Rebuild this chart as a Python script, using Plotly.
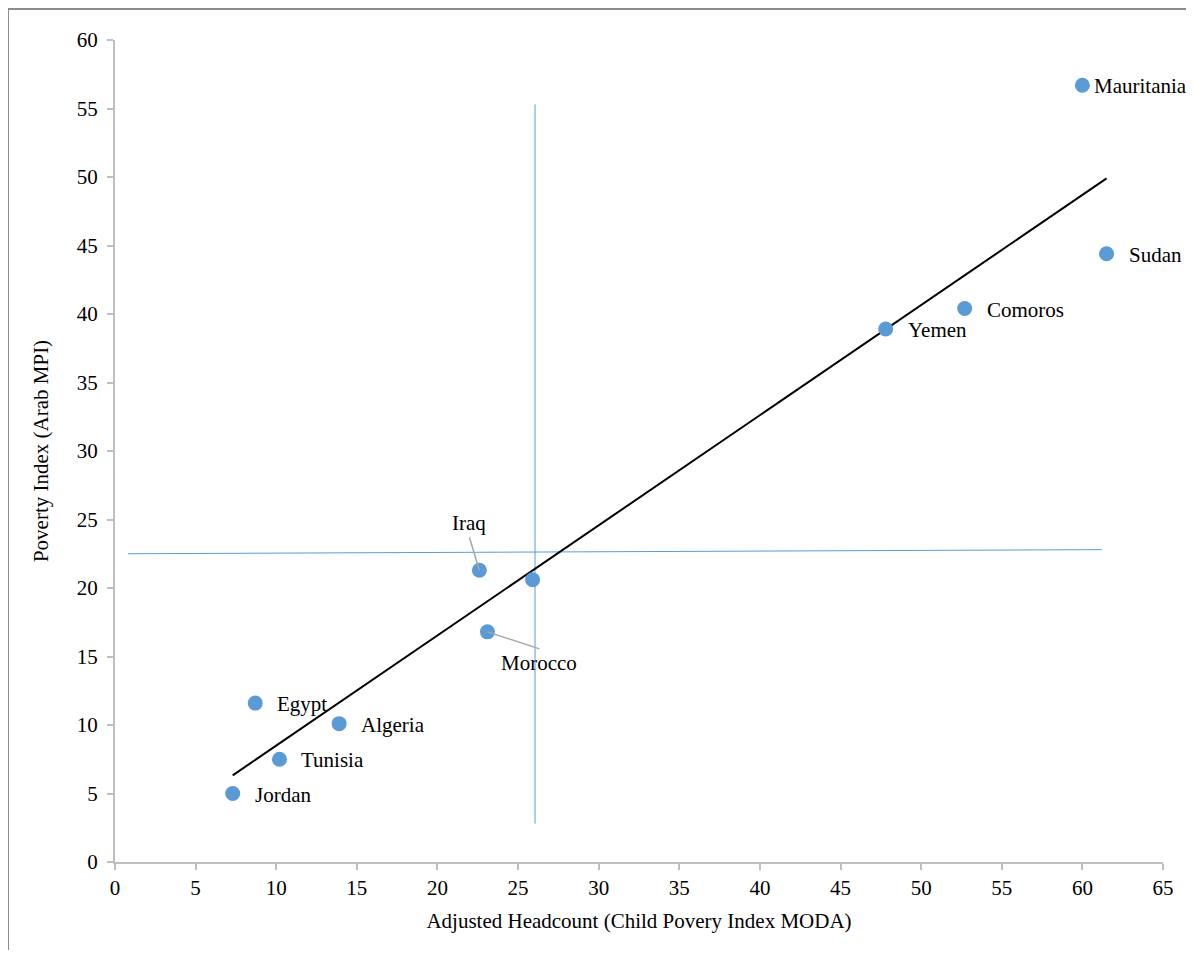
import numpy as np
import plotly.graph_objects as go

# data
countries = ["Mauritania", "Sudan", "Comoros", "Yemen", "Iraq", "", "Morocco",
             "Egypt", "Algeria", "Tunisia", "Jordan"]
child_moda = [60.0, 61.5, 52.7, 47.8, 22.6, 25.9, 23.1, 8.7, 13.9, 10.2, 7.3]
arab_mpi = [56.7, 44.4, 40.4, 38.9, 21.3, 20.6, 16.8, 11.6, 10.1, 7.5, 5.0]

# the two hand-drawn reference lines
vline_x = [26.05, 26.05]
vline_y = [2.8, 55.3]
hline_x = [0.8, 61.2]
hline_y = [22.5, 22.8]

x_ticks = list(range(0, 70, 5))
y_ticks = list(range(0, 65, 5))

BLUE = "#5B9BD5"
GRAY = "#BFBFBF"
FONT = "Liberation Serif"
FS = 21

fig = go.Figure()

fig.add_trace(go.Scatter(x=vline_x, y=vline_y, mode="lines",
                         line=dict(color=BLUE, width=1), showlegend=False))
fig.add_trace(go.Scatter(x=hline_x, y=hline_y, mode="lines",
                         line=dict(color=BLUE, width=1), showlegend=False))

# linear trendline across the data range
slope, icpt = np.polyfit(child_moda, arab_mpi, 1)
tx = np.array([min(child_moda), max(child_moda)])
fig.add_trace(go.Scatter(x=tx, y=slope * tx + icpt, mode="lines",
                         line=dict(color="black", width=2), showlegend=False))

fig.add_trace(go.Scatter(
    x=child_moda, y=arab_mpi, mode="markers",
    marker=dict(color=BLUE, size=15),
    showlegend=False, cliponaxis=False,
))

# labels: plain ones to the right of the point, Iraq/Morocco with leader lines
leaders = {
    "Iraq": dict(ax=-10, ay=-33, xanchor="center", yanchor="bottom"),
    "Morocco": dict(ax=52, ay=17, xanchor="center", yanchor="top"),
}
for name, x, y in zip(countries, child_moda, arab_mpi):
    if not name:
        continue
    if name in leaders:
        fig.add_annotation(x=x, y=y, text=name, showarrow=True, arrowhead=0,
                           arrowcolor="#A6A6A6", arrowwidth=1.5, standoff=0,
                           font=dict(family=FONT, size=FS, color="black"),
                           **leaders[name])
    else:
        # Mauritania sits at the right edge, keep it inside the page
        shift = 10 if name == "Mauritania" else 20
        fig.add_annotation(x=x, y=y, text=name, showarrow=False,
                           xanchor="left", yanchor="middle", xshift=shift, yshift=-1,
                           font=dict(family=FONT, size=FS, color="black"))

# outer frame (only left and top edges fall inside the picture)
fig.add_shape(type="rect", xref="paper", yref="paper",
              x0=-107 / 1048, x1=1.3, y0=-0.3, y1=1.0 + 31 / 822,
              line=dict(color="#8C8C8C", width=2), layer="below")

fig.update_layout(
    width=1186, height=942,
    margin=dict(l=107, r=31, t=32, b=88),
    paper_bgcolor="white", plot_bgcolor="white",
    font=dict(family=FONT, size=FS, color="black"),
    xaxis=dict(
        range=[0, 65], tickvals=x_ticks, showgrid=False, zeroline=False,
        showline=True, linecolor=GRAY, linewidth=2,
        ticks="outside", ticklen=6, tickcolor=GRAY, tickwidth=2,
        title=dict(text="Adjusted Headcount (Child Povery Index MODA)",
                   font=dict(size=FS), standoff=14),
    ),
    yaxis=dict(
        range=[0, 60], tickvals=y_ticks, showgrid=False, zeroline=False,
        showline=True, linecolor=GRAY, linewidth=2,
        ticks="outside", ticklen=6, tickcolor=GRAY, tickwidth=2,
        ticklabelstandoff=5,
        title=dict(text="Poverty Index (Arab MPI)", font=dict(size=FS), standoff=22),
    ),
)

fig.write_html("out.html")
